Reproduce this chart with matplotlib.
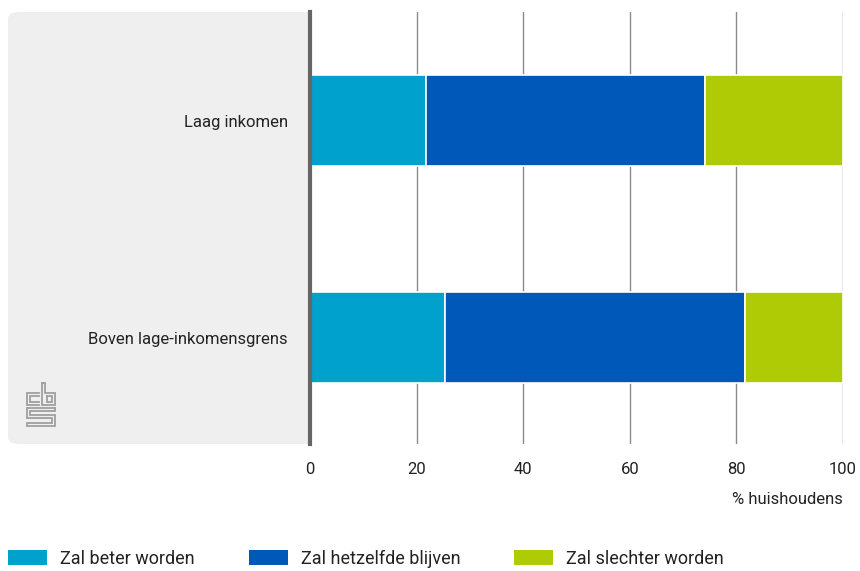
import matplotlib
matplotlib.use("Agg")
import matplotlib.pyplot as plt
from matplotlib.patches import FancyBboxPatch, Patch
from matplotlib.lines import Line2D
import numpy as np

categories = ["Laag inkomen", "Boven lage-inkomensgrens"]
series_names = ["Zal beter worden", "Zal hetzelfde blijven", "Zal slechter worden"]
beter = [21.7, 25.4]
hetzelfde = [52.4, 56.2]
slechter = [25.9, 18.4]
xticks = [0, 20, 40, 60, 80, 100]
xlabel = "% huishoudens"
colors = ["#00A1CD", "#0058B8", "#AFCB05"]

plt.rcParams['font.family'] = ['Roboto', 'DejaVu Sans']
W, H = 860, 571
fig = plt.figure(figsize=(W/100, H/100), dpi=100)

def fx(px):
    return px / W
def fy(py):
    return 1 - py / H

FS = 12
LFS = 13
TC = "#222222"

# grey panel
panel = FancyBboxPatch((fx(8), fy(444)), fx(330) - fx(8), fy(12) - fy(444),
                       boxstyle="round,pad=0,rounding_size=0.012",
                       transform=fig.transFigure, facecolor="#EFEFEF",
                       edgecolor="none", zorder=-5)
fig.patches.append(panel)

ax = fig.add_axes([fx(310), fy(444), fx(843) - fx(310), fy(12) - fy(444)])
ax.set_facecolor("white")

y = np.arange(len(categories))
h = 0.42
left = np.zeros(len(categories))
for vals, c, name in zip([beter, hetzelfde, slechter], colors, series_names):
    ax.barh(y, vals, left=left, height=h, color=c, edgecolor="white",
            linewidth=1.2, label=name, zorder=3)
    left = left + np.array(vals)

ax.set_xlim(0, 100)
ax.set_ylim(1.49, -0.5)
ax.set_xticks(xticks)
ax.set_xticklabels([str(t) for t in xticks], fontsize=FS, color=TC)
ax.set_yticks(y)
ax.set_yticklabels(categories, fontsize=FS, color=TC)
ax.tick_params(axis="y", length=0, pad=16)
ax.tick_params(axis="x", length=0, pad=13)
ax.grid(axis="x", color="#8a8a8a", linewidth=1.0, zorder=0)
ax.set_axisbelow(True)
for s in ["top", "right", "bottom"]:
    ax.spines[s].set_visible(False)
ax.spines["left"].set_color("#666666")
ax.spines["left"].set_linewidth(3)
ax.spines["left"].set_zorder(5)

fig.text(fx(843), fy(500), xlabel, ha="right", va="center", fontsize=FS,
         color=TC)

# CBS logo (approximation)
lx0, ly0 = 27, 383
def seg(points, lw=1.3):
    xs = [fx(lx0 + p[0]) for p in points]
    ys = [fy(ly0 + p[1]) for p in points]
    fig.add_artist(Line2D(xs, ys, transform=fig.transFigure, color="#9f9f9f",
                          linewidth=lw, solid_joinstyle="miter"))
# c
seg([(12, 10), (0, 10), (0, 22), (12, 22)])
seg([(12, 13), (3, 13), (3, 19), (12, 19)])
# b
seg([(15, 0), (15, 22), (28, 22), (28, 10), (18, 10), (18, 0), (15, 0)])
seg([(20, 13), (25, 13), (25, 19), (20, 19), (20, 13)])
# S
seg([(28, 25), (0, 25), (0, 35), (25, 35), (25, 40), (0, 40), (0, 43), (28, 43),
     (28, 32), (3, 32), (3, 28), (28, 28), (28, 25)])

handles = [Patch(facecolor=c, edgecolor="none") for c in colors]
fig.legend(handles, series_names, loc="lower left",
           bbox_to_anchor=(fx(0), fy(576)), ncol=3, frameon=False,
           fontsize=LFS, handlelength=2.15, handleheight=0.9,
           handletextpad=0.72, columnspacing=3.0, borderaxespad=0,
           borderpad=0.45, labelcolor=TC)

fig.savefig("out.png", dpi=100)
